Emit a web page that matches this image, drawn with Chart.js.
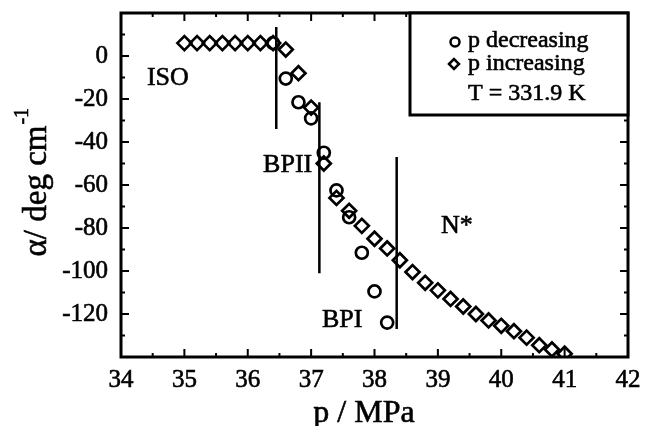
<!DOCTYPE html>
<html>
<head>
<meta charset="utf-8">
<script src="https://cdn.jsdelivr.net/npm/chart.js@4.4.1/dist/chart.umd.min.js"></script>
<style>
  html, body { margin: 0; padding: 0; background: #fff; }
  #wrap { width: 645px; height: 426px; }
</style>
</head>
<body>
<div id="wrap"><canvas id="myChart" width="645" height="426"></canvas></div>
<script>
// pressure (MPa) and optical rotation alpha (deg/cm)
const pDecreasing = [36.4, 36.6, 36.8, 37.0, 37.2, 37.4, 37.6, 37.8, 38.0, 38.2];
const alphaDecreasing = [6, -10.5, -21.5, -29, -45, -62.5, -75, -91.5, -109.5, -124];

const pIncreasing = [35.0, 35.2, 35.4, 35.6, 35.8, 36.0, 36.2, 36.4, 36.6, 36.8, 37.0, 37.2, 37.4,
  37.6, 37.8, 38.0, 38.2, 38.4, 38.6, 38.8, 39.0, 39.2, 39.4, 39.6, 39.8, 40.0, 40.2, 40.4, 40.6, 40.8, 41.0];
const alphaIncreasing = [6, 6, 6, 6, 6, 6, 6, 6, 3, -8, -24, -50, -66,
  -72, -79, -85, -89.5, -95, -100.5, -105.5, -109, -113, -116.5, -120, -123, -125.5, -128, -131, -134.5, -136.5, -138.5];

// phase boundaries (vertical bars)
const boundaryP = [36.45, 37.13, 38.35];
const boundaryTop = [13.5, -21.5, -47];
const boundaryBottom = [-34, -101, -127];

// phase labels
const phaseNames = ['ISO', 'BPII', 'BPI', 'N*'];
const phaseP = [34.74, 36.63, 37.49, 39.3];
const phaseAlpha = [-10.5, -51, -123, -79];

const xTicks = [34, 35, 36, 37, 38, 39, 40, 41, 42];
const yTicks = [0, -20, -40, -60, -80, -100, -120];

const legendLabels = ['p decreasing', 'p increasing', 'T = 331.9 K'];

const serif = '"Liberation Serif", "DejaVu Serif", serif';

const boundaryDatasets = boundaryP.map((p, i) => ({
  label: 'boundary' + i,
  data: [{ x: p, y: boundaryTop[i] }, { x: p, y: boundaryBottom[i] }],
  showLine: true,
  borderColor: '#000',
  borderWidth: 2.5,
  pointRadius: 0,
  order: 3
}));

// text a bit heavier, like the scanned original
function heavyText(c, t, x, y) {
  c.fillText(t, x, y);
  c.strokeText(t, x, y);
}

// frame, inner ticks, texts and legend
const decorPlugin = {
  id: 'decor',
  afterDraw(chart) {
    const c = chart.ctx;
    const a = chart.chartArea;
    const xs = chart.scales.x, ys = chart.scales.y;
    c.save();
    c.strokeStyle = '#000';
    c.fillStyle = '#000';

    // inner ticks
    c.lineWidth = 2;
    c.beginPath();
    for (let v = 34; v <= 42.001; v += 0.5) {
      const px = xs.getPixelForValue(v);
      const len = Math.abs(v - Math.round(v)) < 0.01 ? 8 : 4;
      c.moveTo(px, a.bottom); c.lineTo(px, a.bottom - len);
      c.moveTo(px, a.top); c.lineTo(px, a.top + len);
    }
    for (let v = -140; v <= 20.001; v += 10) {
      const py = ys.getPixelForValue(v);
      const len = (v % 20 === 0) ? 8 : 4;
      c.moveTo(a.left, py); c.lineTo(a.left + len, py);
      c.moveTo(a.right, py); c.lineTo(a.right - len, py);
    }
    c.stroke();

    // frame
    c.lineWidth = 3;
    c.strokeRect(a.left, a.top, a.right - a.left, a.bottom - a.top);

    // phase labels
    c.lineWidth = 0.6;
    c.font = '26px ' + serif;
    c.textAlign = 'center';
    c.textBaseline = 'middle';
    phaseNames.forEach((t, i) => {
      heavyText(c, t, xs.getPixelForValue(phaseP[i]), ys.getPixelForValue(phaseAlpha[i]));
    });

    // legend box
    c.lineWidth = 3;
    c.fillStyle = '#fff';
    c.fillRect(410, a.top, a.right - 410, 115 - a.top);
    c.strokeRect(410, a.top, a.right - 410, 115 - a.top);
    c.fillStyle = '#000';
    c.lineWidth = 2.5;
    c.beginPath();
    c.arc(455, 42, 4.5, 0, Math.PI * 2);
    c.stroke();
    c.beginPath();
    c.moveTo(449, 64); c.lineTo(454, 59); c.lineTo(459, 64); c.lineTo(454, 69); c.closePath();
    c.stroke();
    c.lineWidth = 0.6;
    c.font = '24px ' + serif;
    c.textAlign = 'left';
    c.textBaseline = 'alphabetic';
    heavyText(c, legendLabels[0], 468, 47);
    heavyText(c, legendLabels[1], 468, 70);
    heavyText(c, legendLabels[2], 468, 100);

    // x title
    c.font = '32px ' + serif;
    c.textAlign = 'center';
    heavyText(c, 'p / MPa', 364, 422);

    // y title with superscript
    c.translate(37, 191);
    c.rotate(-Math.PI / 2);
    c.font = '33px ' + serif;
    c.textBaseline = 'middle';
    const main = '\u03b1/ deg cm';
    heavyText(c, main, 0, 0);
    const w = c.measureText(main).width;
    c.font = '20px ' + serif;
    c.textAlign = 'left';
    heavyText(c, '-1', w / 2 + 1, -14);
    c.restore();
  }
};

const ctx = document.getElementById('myChart').getContext('2d');

const myChart = new Chart(ctx, {
  type: 'scatter',
  data: {
    datasets: [
      {
        label: 'p decreasing',
        data: pDecreasing.map((p, i) => ({ x: p, y: alphaDecreasing[i] })),
        pointStyle: 'circle',
        pointRadius: 6,
        pointBorderWidth: 2.7,
        borderColor: '#000',
        backgroundColor: 'rgba(0,0,0,0)',
        order: 1
      },
      {
        label: 'p increasing',
        data: pIncreasing.map((p, i) => ({ x: p, y: alphaIncreasing[i] })),
        pointStyle: 'rectRot',
        pointRadius: 7,
        pointBorderWidth: 2.7,
        borderColor: '#000',
        backgroundColor: 'rgba(0,0,0,0)',
        order: 2
      },
      ...boundaryDatasets
    ]
  },
  options: {
    responsive: false,
    animation: false,
    events: [],
    layout: { padding: { left: 0, top: 13, right: 17, bottom: 0 } },
    scales: {
      x: {
        type: 'linear',
        min: 34,
        max: 42,
        afterFit: s => { s.height = 69; s.paddingLeft = 0; s.paddingRight = 0; },
        afterBuildTicks: s => { s.ticks = xTicks.map(v => ({ value: v })); },
        grid: { display: false, drawTicks: false },
        border: { display: false },
        ticks: {
          color: '#000',
          padding: 8,
          maxRotation: 0,
          textStrokeColor: '#000',
          textStrokeWidth: 0.6,
          font: { family: serif, size: 25 }
        }
      },
      y: {
        type: 'linear',
        min: -140,
        max: 20,
        afterFit: s => { s.width = 121; s.paddingTop = 0; s.paddingBottom = 0; },
        afterBuildTicks: s => { s.ticks = yTicks.map(v => ({ value: v })); },
        grid: { display: false, drawTicks: false },
        border: { display: false },
        ticks: {
          color: '#000',
          padding: 13,
          textStrokeColor: '#000',
          textStrokeWidth: 0.6,
          font: { family: serif, size: 25 }
        }
      }
    },
    plugins: {
      legend: { display: false },
      tooltip: { enabled: false },
      title: { display: false }
    }
  },
  plugins: [decorPlugin]
});
</script>
</body>
</html>
